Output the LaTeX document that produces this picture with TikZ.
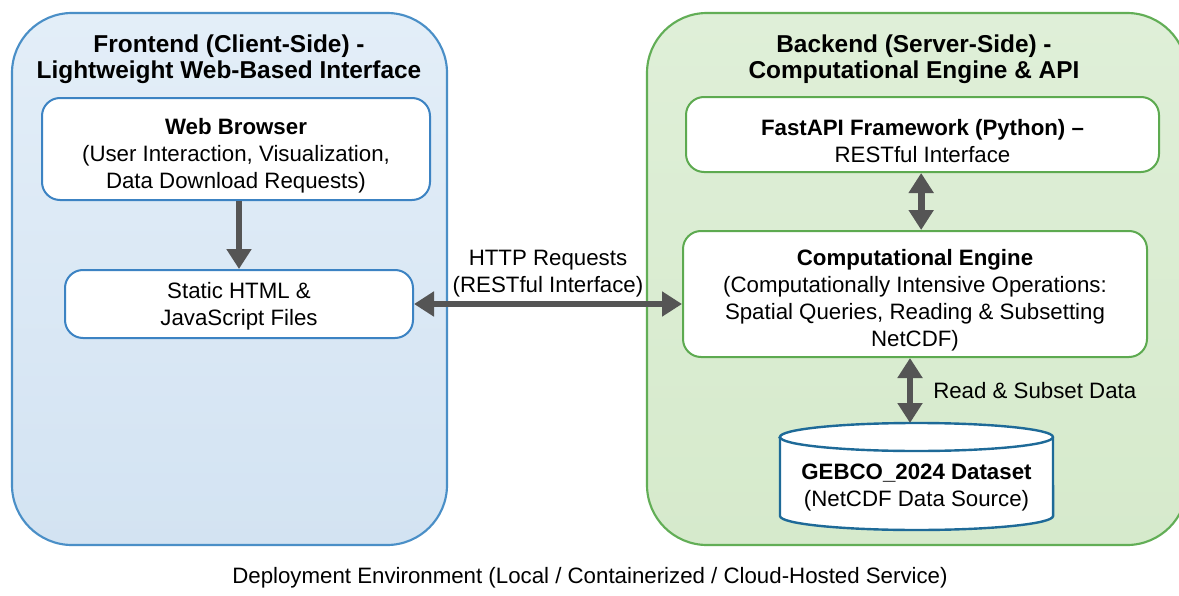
\documentclass[tikz,border=0pt]{standalone}
\usepackage{fontspec}
\setmainfont{Liberation Sans}
\usetikzlibrary{arrows.meta}
\definecolor{outerBlue}{HTML}{4A8FC7}
\definecolor{innerBlue}{HTML}{3C83C3}
\definecolor{fillBlueTop}{HTML}{E3EEF8}
\definecolor{fillBlueBot}{HTML}{D3E3F2}
\definecolor{outerGreen}{HTML}{62AE56}
\definecolor{innerGreen}{HTML}{5DAA50}
\definecolor{fillGreenTop}{HTML}{DFEFD8}
\definecolor{fillGreenBot}{HTML}{D6EACC}
\definecolor{cylBlue}{HTML}{1E6A98}
\definecolor{arrowGrey}{HTML}{555555}
\newcommand{\bodyfont}{\fontsize{16.7}{20.25}\selectfont}
\newcommand{\titlefont}{\fontsize{18.3}{19.5}\selectfont\bfseries}
\newcommand{\topstrut}{\rule{0pt}{21.5pt}}
\begin{document}
\begin{tikzpicture}[x=0.75pt,y=-0.75pt,
  outerbox/.style={rectangle, rounded corners=45pt, line width=1.6pt, inner sep=0pt},
  leftouter/.style={outerbox, draw=outerBlue, top color=fillBlueTop, bottom color=fillBlueBot},
  rightouter/.style={outerbox, draw=outerGreen, top color=fillGreenTop, bottom color=fillGreenBot},
  innerbox/.style={rectangle, rounded corners=13.5pt, line width=1.5pt, fill=white, inner sep=0pt, align=center, font=\bodyfont},
  bluebox/.style={innerbox, draw=innerBlue},
  greenbox/.style={innerbox, draw=innerGreen},
  titletext/.style={align=center, font=\titlefont, inner sep=0pt},
  plaintext/.style={align=center, font=\bodyfont, inner sep=0pt},
  bigarrow/.style={draw=arrowGrey, line width=5pt, -{Triangle[length=15pt,width=18pt]}},
  bigdarrow/.style={draw=arrowGrey, line width=5pt, {Triangle[length=15pt,width=18pt]}-{Triangle[length=15pt,width=18pt]}},
  cylline/.style={draw=cylBlue, line width=1.8pt}
]
\useasboundingbox (0,0) rectangle (1179,596);
\fill[white] (0,0) rectangle (1179,596);

% outer containers
\node[leftouter, minimum width=326.25pt, minimum height=399pt] (front) at (229.5,279) {};
\node[rightouter, minimum width=405pt, minimum height=399pt] (back) at (917,279) {};

% titles
\node[titletext] (ftitle) at (229,59.5) {Frontend (Client-Side) -\\Lightweight Web-Based Interface};
\node[titletext] (btitle) at (914,59.5) {Backend (Server-Side) -\\Computational Engine \& API};

% frontend boxes
\node[bluebox, minimum width=291pt, minimum height=76.5pt] (wb) at (236,149) {\topstrut\textbf{Web Browser}\\(User Interaction, Visualization,\\Data Download Requests)};
\node[bluebox, minimum width=261pt, minimum height=51pt] (sh) at (239,304) {\rule{0pt}{15pt}Static HTML \&\\JavaScript Files};

% backend boxes
\node[greenbox, minimum width=354.75pt, minimum height=56.25pt] (fa) at (922.5,134.5) {\topstrut\textbf{FastAPI Framework (Python) –}\\RESTful Interface};
\node[greenbox, minimum width=348pt, minimum height=94.5pt] (ce) at (915,294) {\topstrut\textbf{Computational Engine}\\(Computationally Intensive Operations:\\Spatial Queries, Reading \& Subsetting\\NetCDF)};

% database cylinder
\path[fill=white] (780,437) -- (780,516) arc[start angle=180, end angle=360, x radius=102.4pt, y radius=10.5pt] -- (1053,437) arc[start angle=0, end angle=180, x radius=102.4pt, y radius=10.5pt] -- cycle;
\draw[cylline] (780,437) -- (780,516) arc[start angle=180, end angle=360, x radius=102.4pt, y radius=10.5pt] -- (1053,437) arc[start angle=0, end angle=180, x radius=102.4pt, y radius=10.5pt] -- cycle;
\draw[cylline] (780,437) arc[start angle=180, end angle=360, x radius=102.4pt, y radius=10.5pt];
\node[plaintext] (db) at (916.5,488) {\textbf{GEBCO\_2024 Dataset}\\(NetCDF Data Source)};
\coordinate (dbtop) at (910,423);

% connectors
\draw[bigarrow] (wb.south -| sh.north) -- (sh.north);
\draw[bigdarrow] (sh.east) -- node[plaintext, above=3pt] (httplbl) {HTTP Requests\\(RESTful Interface)} (sh.east -| ce.west);
\draw[bigdarrow] ([xshift=-1pt]fa.south) -- ([xshift=-1pt]fa.south |- ce.north);
\draw[bigdarrow] (dbtop |- ce.south) -- (dbtop);
\node[plaintext, anchor=west] (rslbl) at (933,391) {Read \& Subset Data};

% footer
\node[plaintext] (footer) at (590,578) {Deployment Environment (Local / Containerized / Cloud-Hosted Service)};
\end{tikzpicture}
\end{document}
